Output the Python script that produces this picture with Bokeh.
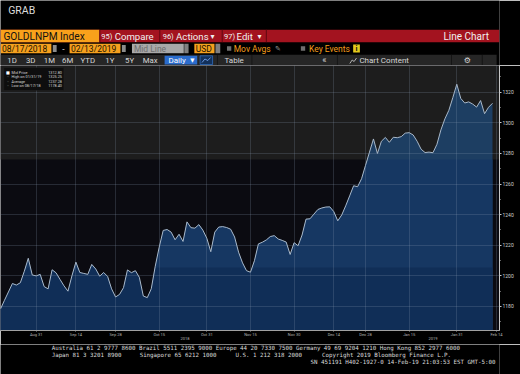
import numpy as np
import pandas as pd
from bokeh.plotting import figure
from bokeh.layouts import column
from bokeh.models import Range1d, FixedTicker, BoxAnnotation, Label, LinearAxis, ColumnDataSource
from bokeh.core.properties import value
from bokeh.embed import file_html
from bokeh.resources import INLINE

# ---------------- data ----------------
start_date = "2018-08-17"
end_date = "2019-02-13"
london_holidays = ["2018-08-27", "2018-12-25", "2018-12-26", "2019-01-01"]

prices = [
    1178.40, 1184.0, 1189.5, 1195.0, 1194.0, 1195.5, 1203.0, 1211.5, 1200.6, 1200.0,
    1201.0, 1193.0, 1191.5, 1204.0, 1202.0, 1197.7, 1193.5, 1190.0, 1200.0, 1209.0,
    1202.2, 1201.6, 1201.0, 1207.5, 1204.5, 1199.8, 1202.2, 1199.6, 1191.5, 1186.2,
    1187.9, 1192.3, 1203.9, 1202.1, 1203.4, 1199.0, 1186.8, 1185.8, 1191.6, 1206.3,
    1218.8, 1229.7, 1230.3, 1228.6, 1223.6, 1227.2, 1222.5, 1235.3, 1231.5, 1231.2,
    1233.5, 1229.9, 1224.6, 1215.8, 1228.6, 1231.9, 1232.2, 1231.6, 1230.5, 1225.4,
    1215.5, 1208.5, 1203.4, 1202.4, 1209.9, 1220.9, 1222.0, 1223.5, 1225.7, 1226.3,
    1224.1, 1223.2, 1222.1, 1214.0, 1221.7, 1219.7, 1226.7, 1237.1, 1237.3, 1240.4,
    1243.4, 1244.4, 1245.0, 1245.1, 1242.0, 1236.0, 1239.8, 1245.8, 1252.3, 1258.9,
    1258.3, 1263.5, 1272.3, 1280.9, 1289.5, 1280.0, 1288.0, 1290.5, 1287.3, 1290.6,
    1290.3, 1291.0, 1293.3, 1293.6, 1292.1, 1288.0, 1282.8, 1280.6, 1280.9, 1280.5,
    1286.0, 1295.4, 1302.6, 1308.2, 1316.5, 1325.25, 1316.0, 1313.0, 1313.7, 1312.3,
    1310.3, 1314.6, 1306.0, 1310.2, 1312.80,
]

tick_dates = ["2018-08-31", "2018-09-14", "2018-09-28", "2018-10-15", "2018-10-31",
              "2018-11-15", "2018-11-30", "2018-12-14", "2018-12-28", "2019-01-15",
              "2019-01-31", "2019-02-14"]
tick_labels = ["Aug 31", "Sep 14", "Sep 28", "Oct 15", "Oct 31", "Nov 15", "Nov 30",
               "Dec 14", "Dec 28", "Jan 15", "Jan 31", "Feb 14"]
y_ticks = [1180, 1200, 1220, 1240, 1260, 1280, 1300, 1320]
y_minor = [1170, 1190, 1210, 1230, 1250, 1270, 1290, 1310, 1330]
y_min, y_max = 1164.3, 1337.5

legend_names = ["Mid Price", "High on 01/31/19", "Average", "Low on 08/17/18"]
legend_values = ["1312.80", "1325.25", "1237.28", "1178.40"]
last_price_text = "1312.80"

footer_line1 = ("Australia 61 2 9777 8600 Brazil 5511 2395 9000 Europe 44 20 7330 7500 "
                "Germany 49 69 9204 1210 Hong Kong 852 2977 6000")
footer_line2 = ["Japan 81 3 3201 8900", "Singapore 65 6212 1000", "U.S. 1 212 318 2000",
                "Copyright 2019 Bloomberg Finance L.P."]
footer_line3 = "SN 451191 H402-1927-0 14-Feb-19 21:03:53 EST  GMT-5:00"

# ---------------- derived ----------------
dates = pd.bdate_range(start_date, end_date)
dates = dates[~dates.isin(pd.to_datetime(london_holidays))]
price = np.array(prices)
n = len(price)
x = np.arange(n)
tick_idx = [float(dates.searchsorted(pd.Timestamp(d))) for d in tick_dates]
years = dates.year
year_pos, year_lab = [], []
for yr in sorted(set(years)):
    idx = np.where(years == yr)[0]
    year_pos.append(float((idx[0] + idx[-1]) / 2))
    year_lab.append(str(yr))

W = 520
X_END = (n - 1) * 499 / 492
FONT = "Roboto"


def T(fig, x0, y0, s, size, color, align="left", font=FONT, style="normal"):
    return fig.text(x=[x0], y=[y0], text=[s], text_font=value(font), text_font_size=f"{size}px",
                    text_color=color, text_align=align, text_baseline="middle",
                    text_font_style=style)


def Q(fig, l, r, t, b, color, line=None):
    fig.quad(left=[l], right=[r], top=[t], bottom=[b], fill_color=color,
             line_color=line, line_width=0.7)


def blank(h, xr, yr):
    f = figure(width=W, height=h, x_range=Range1d(*xr), y_range=Range1d(*yr),
               toolbar_location=None, output_backend="svg", x_axis_location=None,
               y_axis_location=None, min_border=0, background_fill_color="black",
               border_fill_color="black", outline_line_color=None)
    f.grid.visible = False
    return f


# ---------------- header ----------------
hd = blank(65, (0, 520), (65, 0))
T(hd, 8, 9.5, "GRAB", 10.5, "#dcdcdc")
Q(hd, 0, 520, 29.3, 41.7, "#a3131f")
Q(hd, 0, 103, 29.3, 41.7, "#f9a11b")
for xs in [103.5, 166, 231, 277]:
    Q(hd, xs - 0.5, xs + 0.5, 29.3, 41.7, "#5c0710")
Y1 = 35.6
WH = "#f0f0f0"
T(hd, 3, Y1, "GOLDLNPM Index", 10.2, "#111111")
T(hd, 105, Y1, "95)", 7.5, WH)
T(hd, 119, Y1, "Compare", 9.6, WH)
T(hd, 169, Y1, "96)", 7.5, WH)
T(hd, 183, Y1, "Actions", 9.6, WH)
T(hd, 221, Y1, "▾", 8, WH, "center", "DejaVu Sans")
T(hd, 233, Y1, "97)", 7.5, WH)
T(hd, 246, Y1, "Edit", 9.6, WH)
T(hd, 270, Y1, "▾", 8, WH, "center", "DejaVu Sans")
T(hd, 509, Y1, "Line Chart", 10, WH, "right")

Y2 = 48
ORANGE = "#f5a01e"
DARK = "#1b1200"
Q(hd, 0, 53, 43.3, 52.7, ORANGE)
T(hd, 1.5, Y2, "08/17/2018", 8.5, DARK)
Q(hd, 54.5, 58.5, 44.5, 51.5, "#8c8c8c")
T(hd, 65.5, Y2, "-", 8.5, "#dddddd", "center")
Q(hd, 72, 125, 43.3, 52.7, ORANGE)
T(hd, 73.5, Y2, "02/13/2019", 8.5, DARK)
Q(hd, 126.5, 130.5, 44.5, 51.5, "#8c8c8c")
Q(hd, 137, 191, 43.3, 52.7, "#a8a8a8")
T(hd, 139, Y2, "Mid Line", 8.5, "#6e6e6e")
Q(hd, 191.5, 196, 43.3, 52.7, "#808080")
Q(hd, 202, 223, 43.3, 52.7, ORANGE)
T(hd, 203.5, Y2, "USD", 8.5, DARK)
Q(hd, 224, 229, 43.3, 52.7, "#808080")
Q(hd, 236, 240.5, 45.7, 50.3, "#6f6f6f")
T(hd, 243, Y2, "Mov Avgs", 8.5, "#f39c1b")
T(hd, 286, Y2, "✎", 7, "#9a9a9a", "left", "DejaVu Sans")
Q(hd, 313, 317.5, 45.7, 50.3, "#6f6f6f")
T(hd, 321.5, Y2, "Key Events", 8.5, "#f39c1b")
Q(hd, 367.5, 374.5, 44, 52, "#e3c81c")
T(hd, 371, Y2, "i", 7.5, "#111111", "center", FONT, "bold")

Y3 = 59.7
LG = "#d6d6d6"
Q(hd, 0, 517, 54.3, 65, "#262626")
for lab, cx in zip(["1D", "3D", "1M", "6M", "YTD", "1Y", "5Y", "Max"],
                   [12, 31.5, 51, 70, 91, 114, 134.5, 156]):
    T(hd, cx, Y3, lab, 7.8, LG, "center")
Q(hd, 171, 205, 55.3, 64, "#2b6ccc")
T(hd, 175, Y3, "Daily", 8, "white")
T(hd, 200, Y3, "▼", 5.5, "white", "center", "DejaVu Sans")
Q(hd, 208, 221, 55.3, 64, "#12305a", "#2f74d0")
hd.line([210, 213, 216, 219], [62, 58.5, 60, 57], color="#7fb0ff", line_width=0.8)
for xs in [226, 262, 351, 470, 502]:
    Q(hd, xs - 0.4, xs + 0.4, 54.3, 65, "#121212")
T(hd, 243.5, Y3, "Table", 8, LG, "center")
T(hd, 337.5, Y3, "«", 9, LG, "center")
hd.line([364, 366.5, 368.5, 371], [63, 59.5, 61, 57.5], color=LG, line_width=0.8)
T(hd, 374, Y3, "Chart Content", 8, LG)
T(hd, 486.5, Y3, "⚙", 8, LG, "center", "DejaVu Sans")

# ---------------- chart ----------------
ch = figure(width=W, height=279, x_range=Range1d(0, X_END), y_range=Range1d(y_min, y_max),
            y_axis_location="right", toolbar_location=None, output_backend="svg",
            min_border_left=0, min_border_top=0, min_border_right=21, min_border_bottom=14,
            background_fill_color="#0b0b11", border_fill_color="black",
            outline_line_color=None)

ch.add_layout(BoxAnnotation(bottom=1276, fill_color="#1d1d1d", fill_alpha=1,
                            line_color=None, level="underlay"))

src = ColumnDataSource(dict(x=x, y=price, base=np.full(n, y_min),
                            mid=np.minimum(price, 1276), low=np.minimum(price, 1205.5)))
ch.varea(x="x", y1="base", y2="y", source=src, fill_color="#1d3e62")
ch.varea(x="x", y1="base", y2="mid", source=src, fill_color="#163762")
ch.varea(x="x", y1="base", y2="low", source=src, fill_color="#102e57")
ch.line(x="x", y="y", source=src, line_color="#a9b9ca", line_width=1)

xa = ch.xaxis[0]
xa.ticker = FixedTicker(ticks=tick_idx, minor_ticks=[])
xa.major_label_overrides = {t: l for t, l in zip(tick_idx, tick_labels)}
ya = ch.yaxis[0]
ya.ticker = FixedTicker(ticks=y_ticks, minor_ticks=y_minor)

ch.grid.grid_line_color = "#8fa0b5"
ch.grid.grid_line_alpha = 0.22
ch.grid.level = "guide"

xa.axis_line_color = "#a0a0a0"
xa.major_tick_line_color = "#a0a0a0"
xa.major_tick_out = 1
xa.major_tick_in = 0
xa.major_label_standoff = 0
xa.major_label_text_font_size = "4px"
xa.major_label_text_color = "#b4b4b4"
xa.major_label_text_font = FONT

ya.axis_line_color = "#c8c8c8"
ya.major_tick_line_color = "#c8c8c8"
ya.minor_tick_line_color = "#c8c8c8"
ya.major_tick_out = 2
ya.major_tick_in = 0
ya.minor_tick_out = 1
ya.minor_tick_in = 0
ya.major_label_standoff = 1
ya.major_label_text_font_size = "5px"
ya.major_label_text_color = "#d0d0d0"
ya.major_label_text_font = FONT

# year labels: a second, label-only axis below the month axis
yr_ax = LinearAxis(ticker=FixedTicker(ticks=year_pos, minor_ticks=[]),
                   major_label_overrides={p_: l for p_, l in zip(year_pos, year_lab)},
                   axis_line_color=None, major_tick_line_color=None,
                   minor_tick_line_color=None,
                   major_tick_out=0, major_tick_in=0, minor_tick_out=0, minor_tick_in=0,
                   major_label_standoff=-3, major_label_text_font_size="4px",
                   major_label_text_color="#b4b4b4", major_label_text_font=FONT)
ch.add_layout(yr_ax, "below")

ch.add_layout(Label(x=X_END, y=price[-1], x_offset=1.5, text=last_price_text,
                    text_font=FONT, text_font_size="4.6px", text_color="black",
                    background_fill_color="#f2f2f2", text_baseline="middle",
                    text_align="left"))


# legend box (top-left), positioned in frame pixels of the reference
def vx(px):
    return px * X_END / 499


def vy(py):
    return y_max - (py - 65) * (y_max - y_min) / 265


ch.add_layout(BoxAnnotation(left=vx(3.3), right=vx(63.3), top=vy(67), bottom=vy(90),
                            fill_color="#0e0e0e", fill_alpha=1, line_color="#3a3a3a",
                            line_width=0.6))
rows_py = [71.5, 76, 80.6, 85.2]
r1 = ch.text(x=[vx(11)] * 4, y=[vy(v) for v in rows_py], text=legend_names,
             text_font=value(FONT), text_font_size="3.8px", text_color="#d8d8d8",
             text_baseline="middle", text_align="left")
r2 = ch.text(x=[vx(61.5)] * 4, y=[vy(v) for v in rows_py], text=legend_values,
             text_font=value(FONT), text_font_size="3.8px", text_color="#d8d8d8",
             text_baseline="middle", text_align="right")
r3 = ch.text(x=[vx(7.5)] * 4, y=[vy(v) for v in rows_py], text=["■", "–", "–", "–"],
             text_font=value("DejaVu Sans"), text_font_size="4px",
             text_color=["#ffffff", "#9a9a9a", "#9a9a9a", "#9a9a9a"],
             text_baseline="middle", text_align="center")
for r in (r1, r2, r3):
    r.level = "overlay"

# ---------------- footer ----------------
ft = blank(30, (0, 520), (374, 344))
MONO = "DejaVu Sans Mono"
FC = "#dadada"
T(ft, 53.3, 347.2, footer_line1, 5.8, FC, font=MONO)
for s, px in zip(footer_line2, [53.3, 145, 245, 335]):
    T(ft, px, 354, s, 5.8, FC, font=MONO)
T(ft, 323, 361.2, footer_line3, 5.8, FC, font=MONO)

p = column(hd, ch, ft, spacing=0)
open("out.html", "w").write(file_html(p, INLINE))
